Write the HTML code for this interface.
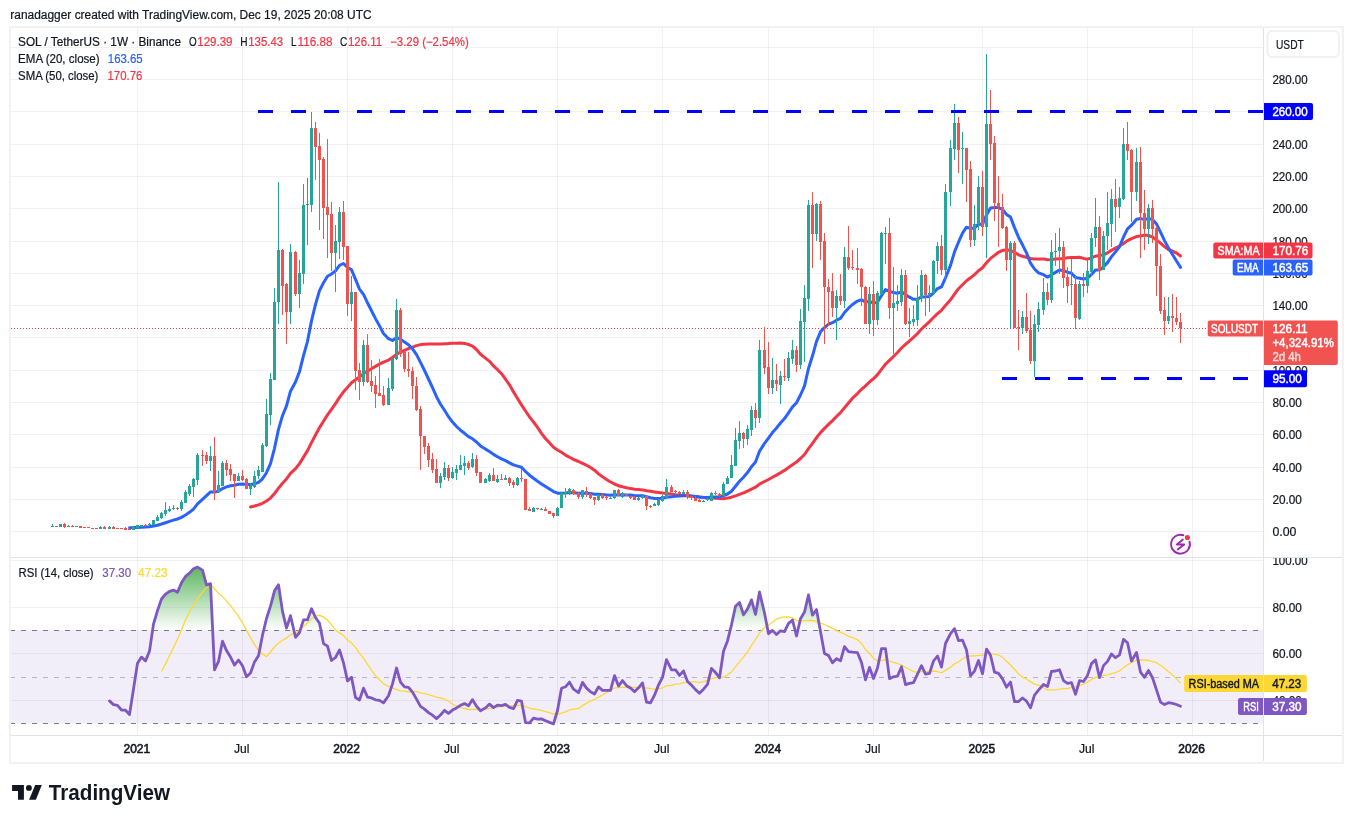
<!DOCTYPE html><html><head><meta charset="utf-8"><style>html,body{margin:0;padding:0;background:#fff;overflow:hidden}svg{display:block;will-change:transform}</style></head><body><svg width="1353" height="823" viewBox="0 0 1353 823" font-family='"Liberation Sans", sans-serif'><rect x="0" y="0" width="1353" height="823" fill="#ffffff"/>
<rect x="11" y="630" width="1252" height="93.5" fill="#7e57c2" fill-opacity="0.1"/>
<line x1="137.5" y1="28" x2="137.5" y2="735" stroke="#2a2e39" stroke-opacity="0.065" stroke-width="1"/>
<line x1="242.5" y1="28" x2="242.5" y2="735" stroke="#2a2e39" stroke-opacity="0.065" stroke-width="1"/>
<line x1="347.5" y1="28" x2="347.5" y2="735" stroke="#2a2e39" stroke-opacity="0.065" stroke-width="1"/>
<line x1="452.5" y1="28" x2="452.5" y2="735" stroke="#2a2e39" stroke-opacity="0.065" stroke-width="1"/>
<line x1="557.5" y1="28" x2="557.5" y2="735" stroke="#2a2e39" stroke-opacity="0.065" stroke-width="1"/>
<line x1="662.5" y1="28" x2="662.5" y2="735" stroke="#2a2e39" stroke-opacity="0.065" stroke-width="1"/>
<line x1="768.5" y1="28" x2="768.5" y2="735" stroke="#2a2e39" stroke-opacity="0.065" stroke-width="1"/>
<line x1="873.5" y1="28" x2="873.5" y2="735" stroke="#2a2e39" stroke-opacity="0.065" stroke-width="1"/>
<line x1="982.5" y1="28" x2="982.5" y2="735" stroke="#2a2e39" stroke-opacity="0.065" stroke-width="1"/>
<line x1="1087.5" y1="28" x2="1087.5" y2="735" stroke="#2a2e39" stroke-opacity="0.065" stroke-width="1"/>
<line x1="1192.5" y1="28" x2="1192.5" y2="735" stroke="#2a2e39" stroke-opacity="0.065" stroke-width="1"/>
<line x1="11" y1="47.5" x2="1263" y2="47.5" stroke="#2a2e39" stroke-opacity="0.065" stroke-width="1"/>
<line x1="11" y1="79.5" x2="1263" y2="79.5" stroke="#2a2e39" stroke-opacity="0.065" stroke-width="1"/>
<line x1="11" y1="111.5" x2="1263" y2="111.5" stroke="#2a2e39" stroke-opacity="0.065" stroke-width="1"/>
<line x1="11" y1="144.5" x2="1263" y2="144.5" stroke="#2a2e39" stroke-opacity="0.065" stroke-width="1"/>
<line x1="11" y1="176.5" x2="1263" y2="176.5" stroke="#2a2e39" stroke-opacity="0.065" stroke-width="1"/>
<line x1="11" y1="208.5" x2="1263" y2="208.5" stroke="#2a2e39" stroke-opacity="0.065" stroke-width="1"/>
<line x1="11" y1="241.5" x2="1263" y2="241.5" stroke="#2a2e39" stroke-opacity="0.065" stroke-width="1"/>
<line x1="11" y1="273.5" x2="1263" y2="273.5" stroke="#2a2e39" stroke-opacity="0.065" stroke-width="1"/>
<line x1="11" y1="305.5" x2="1263" y2="305.5" stroke="#2a2e39" stroke-opacity="0.065" stroke-width="1"/>
<line x1="11" y1="337.5" x2="1263" y2="337.5" stroke="#2a2e39" stroke-opacity="0.065" stroke-width="1"/>
<line x1="11" y1="370.5" x2="1263" y2="370.5" stroke="#2a2e39" stroke-opacity="0.065" stroke-width="1"/>
<line x1="11" y1="402.5" x2="1263" y2="402.5" stroke="#2a2e39" stroke-opacity="0.065" stroke-width="1"/>
<line x1="11" y1="434.5" x2="1263" y2="434.5" stroke="#2a2e39" stroke-opacity="0.065" stroke-width="1"/>
<line x1="11" y1="467.5" x2="1263" y2="467.5" stroke="#2a2e39" stroke-opacity="0.065" stroke-width="1"/>
<line x1="11" y1="499.5" x2="1263" y2="499.5" stroke="#2a2e39" stroke-opacity="0.065" stroke-width="1"/>
<line x1="11" y1="531.5" x2="1263" y2="531.5" stroke="#2a2e39" stroke-opacity="0.065" stroke-width="1"/>
<line x1="11" y1="560.5" x2="1263" y2="560.5" stroke="#2a2e39" stroke-opacity="0.065" stroke-width="1"/>
<line x1="11" y1="607.5" x2="1263" y2="607.5" stroke="#2a2e39" stroke-opacity="0.065" stroke-width="1"/>
<line x1="11" y1="653.5" x2="1263" y2="653.5" stroke="#2a2e39" stroke-opacity="0.065" stroke-width="1"/>
<line x1="11" y1="700.5" x2="1263" y2="700.5" stroke="#2a2e39" stroke-opacity="0.065" stroke-width="1"/>
<defs><linearGradient id="gOB" gradientUnits="userSpaceOnUse" x1="0" y1="560.5" x2="0" y2="630.4"><stop offset="0" stop-color="#4caf50" stop-opacity="1"/><stop offset="1" stop-color="#4caf50" stop-opacity="0"/></linearGradient>
<linearGradient id="gOS" gradientUnits="userSpaceOnUse" x1="0" y1="723.5" x2="0" y2="793.3"><stop offset="0" stop-color="#f23645" stop-opacity="0"/><stop offset="1" stop-color="#f23645" stop-opacity="1"/></linearGradient>
<clipPath id="cOB"><rect x="0" y="550" width="1263" height="80.4"/></clipPath><clipPath id="cOS"><rect x="0" y="723.5" width="1263" height="30"/></clipPath></defs>
<path d="M109.5,630.4 L109.5,700.9 L113.5,704.6 L117.5,705.3 L121.5,710.0 L125.5,710.2 L129.5,714.6 L133.5,689.0 L137.5,663.2 L141.5,657.1 L145.5,661.1 L149.5,651.1 L153.5,624.1 L157.5,610.6 L161.5,599.0 L165.5,594.1 L169.5,591.3 L173.5,590.1 L177.5,592.2 L181.5,582.7 L185.5,576.4 L189.5,573.1 L193.5,568.7 L197.5,567.1 L202.5,570.1 L206.5,585.0 L210.5,583.6 L214.5,669.9 L218.5,661.4 L222.5,641.2 L226.5,650.6 L230.5,657.1 L234.5,665.1 L238.5,660.0 L242.5,665.8 L246.5,676.7 L250.5,673.0 L254.5,661.9 L258.5,655.7 L262.5,635.2 L266.5,618.5 L270.5,606.1 L274.5,590.8 L278.5,584.8 L282.5,611.4 L286.5,628.1 L290.5,615.7 L295.5,637.3 L299.5,632.5 L303.5,619.8 L307.5,619.7 L311.5,608.7 L315.5,617.5 L319.5,623.3 L323.5,643.6 L327.5,646.2 L331.5,660.5 L335.5,657.5 L339.5,650.0 L343.5,662.8 L347.5,680.9 L351.5,677.2 L355.5,697.5 L359.5,700.0 L363.5,688.1 L367.5,697.1 L371.5,697.9 L375.5,699.8 L379.5,700.3 L383.5,702.9 L388.5,695.8 L392.5,683.9 L396.5,668.0 L400.5,682.1 L404.5,686.8 L408.5,687.3 L412.5,692.1 L416.5,699.1 L420.5,706.4 L424.5,709.1 L428.5,712.6 L432.5,715.2 L436.5,718.6 L440.5,715.0 L444.5,710.3 L448.5,713.4 L452.5,710.1 L456.5,707.9 L460.5,705.3 L464.5,703.6 L468.5,705.8 L472.5,699.6 L476.5,706.3 L480.5,710.8 L485.5,707.9 L489.5,704.1 L493.5,707.6 L497.5,705.1 L501.5,705.6 L505.5,704.3 L509.5,707.3 L513.5,708.6 L517.5,700.4 L521.5,701.2 L525.5,722.6 L529.5,722.9 L533.5,718.1 L537.5,719.2 L541.5,718.9 L545.5,720.7 L549.5,722.4 L553.5,723.9 L557.5,710.5 L561.5,688.2 L565.5,686.8 L569.5,682.1 L573.5,689.2 L578.5,692.7 L582.5,682.4 L586.5,688.1 L590.5,691.8 L594.5,694.0 L598.5,686.9 L602.5,690.4 L606.5,690.4 L610.5,690.4 L614.5,675.6 L618.5,686.1 L622.5,680.6 L626.5,685.7 L630.5,688.0 L634.5,691.8 L638.5,687.8 L642.5,682.9 L646.5,702.1 L650.5,702.9 L654.5,695.2 L658.5,685.0 L662.5,677.4 L666.5,659.6 L671.5,669.8 L675.5,669.8 L679.5,675.4 L683.5,670.9 L687.5,681.5 L691.5,685.1 L695.5,689.6 L699.5,693.2 L703.5,689.2 L707.5,684.4 L711.5,668.4 L715.5,672.4 L719.5,677.8 L723.5,651.2 L727.5,640.9 L731.5,624.8 L735.5,606.3 L739.5,602.5 L743.5,614.8 L747.5,609.1 L751.5,599.9 L755.5,614.4 L759.5,592.0 L764.5,613.0 L768.5,633.8 L772.5,630.4 L776.5,634.6 L780.5,630.8 L784.5,631.7 L788.5,623.3 L792.5,620.1 L796.5,636.0 L800.5,618.7 L804.5,612.0 L808.5,594.9 L812.5,615.2 L816.5,609.6 L820.5,631.8 L824.5,653.5 L828.5,655.5 L832.5,662.8 L836.5,658.7 L840.5,660.8 L844.5,646.7 L848.5,651.7 L852.5,652.2 L857.5,652.7 L861.5,662.5 L865.5,679.9 L869.5,667.4 L873.5,678.5 L877.5,667.9 L881.5,648.6 L885.5,648.6 L889.5,678.6 L893.5,676.8 L897.5,676.1 L901.5,666.8 L905.5,684.6 L909.5,683.3 L913.5,682.6 L917.5,674.1 L921.5,665.7 L925.5,674.2 L929.5,673.4 L933.5,661.0 L937.5,656.0 L941.5,667.1 L945.5,643.5 L950.5,633.6 L954.5,628.7 L958.5,640.6 L962.5,640.2 L966.5,650.0 L970.5,675.9 L974.5,671.1 L978.5,660.5 L982.5,673.8 L986.5,649.1 L990.5,655.2 L994.5,672.1 L998.5,673.3 L1002.5,678.9 L1006.5,687.2 L1010.5,682.0 L1014.5,701.7 L1018.5,701.5 L1022.5,698.0 L1026.5,701.1 L1030.5,707.9 L1034.5,695.1 L1038.5,690.1 L1043.5,684.5 L1047.5,686.6 L1051.5,671.4 L1055.5,671.0 L1059.5,669.8 L1063.5,680.6 L1067.5,683.4 L1071.5,682.6 L1075.5,694.4 L1079.5,680.6 L1083.5,681.5 L1087.5,675.4 L1091.5,663.6 L1095.5,659.9 L1099.5,677.6 L1103.5,665.6 L1107.5,661.4 L1111.5,654.0 L1115.5,657.7 L1119.5,654.8 L1123.5,639.4 L1127.5,642.8 L1131.5,661.1 L1136.5,652.4 L1140.5,672.1 L1144.5,677.3 L1148.5,670.5 L1152.5,677.7 L1156.5,689.9 L1160.5,702.1 L1164.5,704.6 L1168.5,702.7 L1172.5,703.3 L1176.5,704.5 L1180.5,706.2 L1180.5,630.4Z" fill="url(#gOB)" clip-path="url(#cOB)"/>
<path d="M109.5,723.5 L109.5,700.9 L113.5,704.6 L117.5,705.3 L121.5,710.0 L125.5,710.2 L129.5,714.6 L133.5,689.0 L137.5,663.2 L141.5,657.1 L145.5,661.1 L149.5,651.1 L153.5,624.1 L157.5,610.6 L161.5,599.0 L165.5,594.1 L169.5,591.3 L173.5,590.1 L177.5,592.2 L181.5,582.7 L185.5,576.4 L189.5,573.1 L193.5,568.7 L197.5,567.1 L202.5,570.1 L206.5,585.0 L210.5,583.6 L214.5,669.9 L218.5,661.4 L222.5,641.2 L226.5,650.6 L230.5,657.1 L234.5,665.1 L238.5,660.0 L242.5,665.8 L246.5,676.7 L250.5,673.0 L254.5,661.9 L258.5,655.7 L262.5,635.2 L266.5,618.5 L270.5,606.1 L274.5,590.8 L278.5,584.8 L282.5,611.4 L286.5,628.1 L290.5,615.7 L295.5,637.3 L299.5,632.5 L303.5,619.8 L307.5,619.7 L311.5,608.7 L315.5,617.5 L319.5,623.3 L323.5,643.6 L327.5,646.2 L331.5,660.5 L335.5,657.5 L339.5,650.0 L343.5,662.8 L347.5,680.9 L351.5,677.2 L355.5,697.5 L359.5,700.0 L363.5,688.1 L367.5,697.1 L371.5,697.9 L375.5,699.8 L379.5,700.3 L383.5,702.9 L388.5,695.8 L392.5,683.9 L396.5,668.0 L400.5,682.1 L404.5,686.8 L408.5,687.3 L412.5,692.1 L416.5,699.1 L420.5,706.4 L424.5,709.1 L428.5,712.6 L432.5,715.2 L436.5,718.6 L440.5,715.0 L444.5,710.3 L448.5,713.4 L452.5,710.1 L456.5,707.9 L460.5,705.3 L464.5,703.6 L468.5,705.8 L472.5,699.6 L476.5,706.3 L480.5,710.8 L485.5,707.9 L489.5,704.1 L493.5,707.6 L497.5,705.1 L501.5,705.6 L505.5,704.3 L509.5,707.3 L513.5,708.6 L517.5,700.4 L521.5,701.2 L525.5,722.6 L529.5,722.9 L533.5,718.1 L537.5,719.2 L541.5,718.9 L545.5,720.7 L549.5,722.4 L553.5,723.9 L557.5,710.5 L561.5,688.2 L565.5,686.8 L569.5,682.1 L573.5,689.2 L578.5,692.7 L582.5,682.4 L586.5,688.1 L590.5,691.8 L594.5,694.0 L598.5,686.9 L602.5,690.4 L606.5,690.4 L610.5,690.4 L614.5,675.6 L618.5,686.1 L622.5,680.6 L626.5,685.7 L630.5,688.0 L634.5,691.8 L638.5,687.8 L642.5,682.9 L646.5,702.1 L650.5,702.9 L654.5,695.2 L658.5,685.0 L662.5,677.4 L666.5,659.6 L671.5,669.8 L675.5,669.8 L679.5,675.4 L683.5,670.9 L687.5,681.5 L691.5,685.1 L695.5,689.6 L699.5,693.2 L703.5,689.2 L707.5,684.4 L711.5,668.4 L715.5,672.4 L719.5,677.8 L723.5,651.2 L727.5,640.9 L731.5,624.8 L735.5,606.3 L739.5,602.5 L743.5,614.8 L747.5,609.1 L751.5,599.9 L755.5,614.4 L759.5,592.0 L764.5,613.0 L768.5,633.8 L772.5,630.4 L776.5,634.6 L780.5,630.8 L784.5,631.7 L788.5,623.3 L792.5,620.1 L796.5,636.0 L800.5,618.7 L804.5,612.0 L808.5,594.9 L812.5,615.2 L816.5,609.6 L820.5,631.8 L824.5,653.5 L828.5,655.5 L832.5,662.8 L836.5,658.7 L840.5,660.8 L844.5,646.7 L848.5,651.7 L852.5,652.2 L857.5,652.7 L861.5,662.5 L865.5,679.9 L869.5,667.4 L873.5,678.5 L877.5,667.9 L881.5,648.6 L885.5,648.6 L889.5,678.6 L893.5,676.8 L897.5,676.1 L901.5,666.8 L905.5,684.6 L909.5,683.3 L913.5,682.6 L917.5,674.1 L921.5,665.7 L925.5,674.2 L929.5,673.4 L933.5,661.0 L937.5,656.0 L941.5,667.1 L945.5,643.5 L950.5,633.6 L954.5,628.7 L958.5,640.6 L962.5,640.2 L966.5,650.0 L970.5,675.9 L974.5,671.1 L978.5,660.5 L982.5,673.8 L986.5,649.1 L990.5,655.2 L994.5,672.1 L998.5,673.3 L1002.5,678.9 L1006.5,687.2 L1010.5,682.0 L1014.5,701.7 L1018.5,701.5 L1022.5,698.0 L1026.5,701.1 L1030.5,707.9 L1034.5,695.1 L1038.5,690.1 L1043.5,684.5 L1047.5,686.6 L1051.5,671.4 L1055.5,671.0 L1059.5,669.8 L1063.5,680.6 L1067.5,683.4 L1071.5,682.6 L1075.5,694.4 L1079.5,680.6 L1083.5,681.5 L1087.5,675.4 L1091.5,663.6 L1095.5,659.9 L1099.5,677.6 L1103.5,665.6 L1107.5,661.4 L1111.5,654.0 L1115.5,657.7 L1119.5,654.8 L1123.5,639.4 L1127.5,642.8 L1131.5,661.1 L1136.5,652.4 L1140.5,672.1 L1144.5,677.3 L1148.5,670.5 L1152.5,677.7 L1156.5,689.9 L1160.5,702.1 L1164.5,704.6 L1168.5,702.7 L1172.5,703.3 L1176.5,704.5 L1180.5,706.2 L1180.5,723.5Z" fill="url(#gOS)" clip-path="url(#cOS)"/>
<line x1="11" y1="630.5" x2="1263" y2="630.5" stroke="#787b86" stroke-opacity="1" stroke-width="1" stroke-dasharray="5,6" stroke-dashoffset="1"/>
<line x1="11" y1="677.5" x2="1263" y2="677.5" stroke="#787b86" stroke-opacity="0.5" stroke-width="1" stroke-dasharray="5,6" stroke-dashoffset="1"/>
<line x1="11" y1="723.5" x2="1263" y2="723.5" stroke="#787b86" stroke-opacity="1" stroke-width="1" stroke-dasharray="5,6" stroke-dashoffset="1"/>
<line x1="11" y1="328.5" x2="1263" y2="328.5" stroke="#f23645" stroke-width="1" stroke-dasharray="1,2"/>
<path d="M250.5,507.0 L254.5,506.0 L258.5,504.9 L262.5,503.3 L266.5,501.0 L270.5,498.1 L274.5,493.6 L278.5,488.1 L282.5,483.2 L286.5,478.9 L290.5,473.4 L295.5,468.7 L299.5,463.6 L303.5,457.1 L307.5,450.6 L311.5,442.6 L315.5,435.0 L319.5,427.6 L323.5,421.2 L327.5,414.9 L331.5,409.3 L335.5,403.6 L339.5,397.4 L343.5,391.8 L347.5,387.4 L351.5,382.7 L355.5,379.8 L359.5,377.1 L363.5,373.7 L367.5,371.1 L371.5,368.7 L375.5,366.4 L379.5,364.1 L383.5,362.2 L388.5,360.1 L392.5,357.5 L396.5,354.2 L400.5,352.1 L404.5,350.4 L408.5,348.6 L412.5,347.2 L416.5,345.6 L420.5,344.6 L424.5,344.3 L428.5,344.1 L432.5,344.0 L436.5,344.0 L440.5,344.0 L444.5,343.8 L448.5,343.6 L452.5,343.3 L456.5,343.2 L460.5,343.1 L464.5,343.4 L468.5,344.5 L472.5,346.1 L476.5,349.5 L480.5,354.2 L485.5,358.1 L489.5,361.3 L493.5,365.9 L497.5,369.6 L501.5,373.7 L505.5,379.2 L509.5,384.8 L513.5,391.9 L517.5,398.5 L521.5,404.9 L525.5,411.0 L529.5,416.9 L533.5,422.0 L537.5,427.3 L541.5,433.3 L545.5,438.6 L549.5,442.8 L553.5,447.2 L557.5,450.0 L561.5,452.2 L565.5,455.1 L569.5,457.3 L573.5,459.4 L578.5,461.5 L582.5,463.4 L586.5,465.2 L590.5,467.4 L594.5,470.2 L598.5,473.9 L602.5,476.8 L606.5,479.4 L610.5,481.9 L614.5,484.0 L618.5,485.7 L622.5,486.8 L626.5,487.8 L630.5,488.6 L634.5,489.2 L638.5,489.5 L642.5,489.9 L646.5,490.7 L650.5,491.2 L654.5,491.9 L658.5,492.5 L662.5,493.1 L666.5,493.6 L671.5,494.1 L675.5,494.7 L679.5,495.1 L683.5,495.3 L687.5,495.7 L691.5,496.2 L695.5,496.5 L699.5,497.0 L703.5,497.4 L707.5,497.9 L711.5,498.1 L715.5,498.3 L719.5,498.6 L723.5,498.7 L727.5,498.1 L731.5,497.2 L735.5,495.8 L739.5,494.3 L743.5,492.9 L747.5,491.2 L751.5,489.2 L755.5,487.2 L759.5,484.1 L764.5,481.5 L768.5,479.5 L772.5,477.3 L776.5,475.1 L780.5,472.7 L784.5,470.4 L788.5,467.6 L792.5,464.7 L796.5,462.0 L800.5,458.5 L804.5,454.5 L808.5,448.6 L812.5,443.4 L816.5,437.7 L820.5,432.6 L824.5,428.4 L828.5,424.4 L832.5,420.6 L836.5,416.5 L840.5,412.6 L844.5,407.8 L848.5,403.0 L852.5,398.2 L857.5,393.6 L861.5,389.3 L865.5,385.9 L869.5,382.0 L873.5,378.6 L877.5,374.6 L881.5,369.4 L885.5,364.2 L889.5,360.4 L893.5,356.5 L897.5,352.5 L901.5,348.0 L905.5,344.4 L909.5,340.9 L913.5,337.4 L917.5,333.5 L921.5,329.0 L925.5,325.3 L929.5,321.6 L933.5,317.5 L937.5,313.6 L941.5,310.3 L945.5,305.4 L950.5,299.8 L954.5,294.1 L958.5,288.7 L962.5,284.7 L966.5,280.7 L970.5,277.8 L974.5,274.6 L978.5,270.7 L982.5,267.7 L986.5,262.7 L990.5,258.4 L994.5,255.4 L998.5,252.3 L1002.5,250.4 L1006.5,249.7 L1010.5,250.4 L1014.5,252.3 L1018.5,254.8 L1022.5,256.3 L1026.5,257.2 L1030.5,258.5 L1034.5,258.9 L1038.5,259.1 L1043.5,258.9 L1047.5,259.8 L1051.5,259.5 L1055.5,259.1 L1059.5,258.7 L1063.5,258.5 L1067.5,257.7 L1071.5,257.5 L1075.5,257.5 L1079.5,257.3 L1083.5,258.4 L1087.5,259.2 L1091.5,257.8 L1095.5,256.2 L1099.5,255.6 L1103.5,254.8 L1107.5,252.8 L1111.5,250.4 L1115.5,248.1 L1119.5,246.1 L1123.5,243.5 L1127.5,240.6 L1131.5,238.6 L1136.5,236.6 L1140.5,236.0 L1144.5,235.1 L1148.5,235.5 L1152.5,237.1 L1156.5,239.9 L1160.5,243.2 L1164.5,246.6 L1168.5,249.5 L1172.5,251.1 L1176.5,253.1 L1180.5,255.9" stroke="#f23645" stroke-width="3" fill="none" stroke-linejoin="round" stroke-linecap="round"/>
<path d="M129.5,527.7 L133.5,527.6 L137.5,527.4 L141.5,527.2 L145.5,527.1 L149.5,526.8 L153.5,526.1 L157.5,525.2 L161.5,524.0 L165.5,522.7 L169.5,521.4 L173.5,520.1 L177.5,519.0 L181.5,517.4 L185.5,515.0 L189.5,512.3 L193.5,509.1 L197.5,503.9 L202.5,499.4 L206.5,495.7 L210.5,491.9 L214.5,492.0 L218.5,491.3 L222.5,488.6 L226.5,486.9 L230.5,485.7 L234.5,485.2 L238.5,484.3 L242.5,484.0 L246.5,484.4 L250.5,484.5 L254.5,483.7 L258.5,482.4 L262.5,478.8 L266.5,472.7 L270.5,463.7 L274.5,448.3 L278.5,429.4 L282.5,415.7 L286.5,405.9 L290.5,391.2 L295.5,382.0 L299.5,371.6 L303.5,355.7 L307.5,341.3 L311.5,320.9 L315.5,304.3 L319.5,290.6 L323.5,282.7 L327.5,276.2 L331.5,274.0 L335.5,270.9 L339.5,265.3 L343.5,263.5 L347.5,267.4 L351.5,269.8 L355.5,279.4 L359.5,289.1 L363.5,294.4 L367.5,302.8 L371.5,310.7 L375.5,318.6 L379.5,325.9 L383.5,333.5 L388.5,338.7 L392.5,340.5 L396.5,337.6 L400.5,339.2 L404.5,342.1 L408.5,344.8 L412.5,348.8 L416.5,354.6 L420.5,362.4 L424.5,370.5 L428.5,379.0 L432.5,387.6 L436.5,396.7 L440.5,404.2 L444.5,410.3 L448.5,416.7 L452.5,422.1 L456.5,426.5 L460.5,430.2 L464.5,433.3 L468.5,436.6 L472.5,438.8 L476.5,442.0 L480.5,445.9 L485.5,449.1 L489.5,451.5 L493.5,454.4 L497.5,456.7 L501.5,458.9 L505.5,460.7 L509.5,462.8 L513.5,464.9 L517.5,466.1 L521.5,467.3 L525.5,471.5 L529.5,475.2 L533.5,478.3 L537.5,481.2 L541.5,483.9 L545.5,486.5 L549.5,489.1 L553.5,491.6 L557.5,493.2 L561.5,493.2 L565.5,493.1 L569.5,492.6 L573.5,492.8 L578.5,493.2 L582.5,493.0 L586.5,493.2 L590.5,493.6 L594.5,494.2 L598.5,494.3 L602.5,494.6 L606.5,494.9 L610.5,495.2 L614.5,494.7 L618.5,494.9 L622.5,494.7 L626.5,494.9 L630.5,495.1 L634.5,495.6 L638.5,495.8 L642.5,495.8 L646.5,496.8 L650.5,497.8 L654.5,498.4 L658.5,498.5 L662.5,498.3 L666.5,497.2 L671.5,496.7 L675.5,496.2 L679.5,496.0 L683.5,495.7 L687.5,495.8 L691.5,496.0 L695.5,496.5 L699.5,497.0 L703.5,497.4 L707.5,497.6 L711.5,497.1 L715.5,496.9 L719.5,496.8 L723.5,495.6 L727.5,494.0 L731.5,491.2 L735.5,486.3 L739.5,481.3 L743.5,477.2 L747.5,472.6 L751.5,466.7 L755.5,462.0 L759.5,451.3 L764.5,443.4 L768.5,438.1 L772.5,432.6 L776.5,428.0 L780.5,423.0 L784.5,418.6 L788.5,412.8 L792.5,406.9 L796.5,402.8 L800.5,395.0 L804.5,385.8 L808.5,368.5 L812.5,355.8 L816.5,341.3 L820.5,331.8 L824.5,327.6 L828.5,324.2 L832.5,322.7 L836.5,320.2 L840.5,318.3 L844.5,312.5 L848.5,308.2 L852.5,304.5 L857.5,301.1 L861.5,299.8 L865.5,302.1 L869.5,301.4 L873.5,303.1 L877.5,302.1 L881.5,295.5 L885.5,289.6 L889.5,291.4 L893.5,292.5 L897.5,293.3 L901.5,291.6 L905.5,294.7 L909.5,297.2 L913.5,299.3 L917.5,299.2 L921.5,296.9 L925.5,296.7 L929.5,296.4 L933.5,293.0 L937.5,288.6 L941.5,286.8 L945.5,277.8 L950.5,265.4 L954.5,251.9 L958.5,242.2 L962.5,233.2 L966.5,227.2 L970.5,228.4 L974.5,228.0 L978.5,224.1 L982.5,224.5 L986.5,214.9 L990.5,208.1 L994.5,207.6 L998.5,207.6 L1002.5,209.5 L1006.5,214.4 L1010.5,217.1 L1014.5,227.6 L1018.5,237.2 L1022.5,244.8 L1026.5,252.9 L1030.5,263.2 L1034.5,269.0 L1038.5,272.9 L1043.5,274.7 L1047.5,277.1 L1051.5,274.7 L1055.5,272.4 L1059.5,270.0 L1063.5,270.7 L1067.5,272.2 L1071.5,273.3 L1075.5,277.6 L1079.5,278.2 L1083.5,279.0 L1087.5,278.2 L1091.5,274.4 L1095.5,270.0 L1099.5,270.0 L1103.5,266.8 L1107.5,262.6 L1111.5,256.6 L1115.5,251.9 L1119.5,246.8 L1123.5,237.0 L1127.5,228.8 L1131.5,225.2 L1136.5,219.2 L1140.5,218.6 L1144.5,219.6 L1148.5,218.5 L1152.5,219.5 L1156.5,223.9 L1160.5,232.2 L1164.5,240.6 L1168.5,247.9 L1172.5,254.6 L1176.5,261.0 L1180.5,267.4" stroke="#2962ff" stroke-width="3" fill="none" stroke-linejoin="round" stroke-linecap="round"/>
<path d="M52.5,524V527M60.5,524V527M68.5,525V527M76.5,526V527M100.5,526V529M109.5,526V529M133.5,527V530M137.5,525V529M141.5,525V527M149.5,523V526M153.5,520V525M157.5,515V521M161.5,512V519M165.5,502V516M169.5,506V512M173.5,505V510M181.5,500V511M185.5,490V503M189.5,484V496M193.5,478V497M197.5,453V485M210.5,446V471M218.5,471V493M222.5,461V486M238.5,473V481M250.5,483V495M254.5,471V488M258.5,466V479M262.5,443V472M266.5,399V447M270.5,373V425M274.5,288V380M278.5,182V324M290.5,244V324M299.5,260V308M303.5,184V284M307.5,178V245M311.5,112V212M335.5,225V292M339.5,207V259M351.5,276V321M363.5,340V386M388.5,378V405M392.5,358V391M396.5,299V360M440.5,473V488M444.5,462V480M452.5,467V479M456.5,465V480M460.5,455V470M464.5,456V475M472.5,453V468M485.5,478V483M489.5,473V482M497.5,475V483M505.5,475V480M517.5,477V486M533.5,507V512M541.5,508V510M557.5,507V516M561.5,492V508M565.5,488V498M569.5,488V495M582.5,490V499M598.5,494V501M610.5,497V499M614.5,490V499M622.5,492V498M638.5,497V501M642.5,495V499M654.5,503V506M658.5,499V506M662.5,495V502M666.5,479V498M683.5,490V494M703.5,500V502M707.5,498V501M711.5,492V501M723.5,482V496M727.5,476V484M731.5,455V478M735.5,428V466M739.5,421V449M747.5,425V445M751.5,406V436M759.5,340V423M772.5,358V394M780.5,371V404M788.5,352V381M792.5,340V364M800.5,309V369M804.5,285V362M808.5,200V311M816.5,203V241M836.5,290V340M844.5,247V308M869.5,287V334M877.5,291V325M881.5,232V294M885.5,227V264M893.5,267V354M897.5,285V311M901.5,269V306M909.5,308V337M913.5,305V326M917.5,285V326M921.5,270V302M929.5,285V312M933.5,260V294M937.5,242V274M945.5,184V280M950.5,140V206M954.5,104V160M962.5,132V184M974.5,205V246M978.5,176V230M986.5,54V258M1010.5,241V328M1022.5,311V334M1034.5,315V377M1038.5,302V332M1043.5,278V315M1051.5,240V303M1055.5,233V266M1059.5,228V274M1071.5,259V305M1079.5,281V320M1087.5,260V293M1091.5,233V276M1095.5,198V247M1103.5,231V270M1107.5,192V250M1111.5,189V247M1119.5,187V218M1123.5,128V200M1136.5,148V201M1148.5,204V244M1168.5,297V324" stroke="#26a69a" stroke-width="1" fill="none"/>
<path d="M56.5,526V527M64.5,523V528M72.5,525V527M80.5,526V528M84.5,527V528M88.5,527V528M92.5,528V529M96.5,528V529M104.5,526V529M113.5,526V529M117.5,528V529M121.5,528V529M125.5,527V530M129.5,529V530M145.5,524V527M177.5,507V510M202.5,450V466M206.5,452V464M214.5,437V500M226.5,460V476M230.5,464V481M234.5,474V498M242.5,470V481M246.5,478V489M282.5,249V315M286.5,283V344M295.5,251V296M315.5,122V180M319.5,133V230M323.5,157V239M327.5,139V258M331.5,202V271M343.5,201V260M347.5,246V316M355.5,292V390M359.5,363V400M367.5,334V383M371.5,360V392M375.5,376V408M379.5,359V396M383.5,386V406M400.5,308V357M404.5,352V372M408.5,352V377M412.5,367V399M416.5,377V411M420.5,406V470M424.5,436V454M428.5,443V467M432.5,453V473M436.5,459V483M448.5,465V481M468.5,461V470M476.5,455V476M480.5,472V483M493.5,468V481M501.5,474V480M509.5,477V486M513.5,480V488M521.5,469V482M525.5,479V510M529.5,507V511M537.5,508V510M545.5,507V511M549.5,511V514M553.5,513V518M573.5,489V495M578.5,492V499M586.5,487V497M590.5,493V499M594.5,497V505M602.5,493V499M606.5,496V500M618.5,489V496M626.5,494V496M630.5,496V499M634.5,496V500M646.5,496V510M650.5,505V508M671.5,485V492M675.5,490V493M679.5,491V494M687.5,490V499M691.5,496V500M695.5,496V501M699.5,499V502M715.5,491V495M719.5,493V497M743.5,432V448M755.5,403V428M764.5,327V374M768.5,342V394M776.5,364V391M784.5,359V381M796.5,346V372M812.5,192V268M820.5,201V260M824.5,233V344M828.5,279V326M832.5,273V317M840.5,274V305M848.5,226V270M852.5,250V270M857.5,248V284M861.5,268V306M865.5,286V324M873.5,281V336M889.5,218V319M905.5,270V325M925.5,274V316M941.5,235V275M958.5,117V173M966.5,148V202M970.5,161V247M982.5,171V236M990.5,90V160M994.5,136V221M998.5,176V247M1002.5,194V229M1006.5,226V271M1014.5,241V328M1018.5,310V350M1026.5,293V333M1030.5,311V364M1047.5,283V305M1063.5,241V288M1067.5,267V303M1075.5,275V329M1083.5,273V297M1099.5,216V280M1115.5,179V232M1127.5,122V160M1131.5,149V222M1140.5,147V258M1144.5,190V250M1152.5,200V243M1156.5,226V296M1160.5,254V314M1164.5,297V335M1172.5,294V332M1176.5,297V325M1180.5,313V343" stroke="#ef5350" stroke-width="1" fill="none"/>
<path d="M51,526h3v1h-3zM59,524h3v3h-3zM67,526h3v1h-3zM75,526h3v1h-3zM99,527h3v2h-3zM108,527h3v2h-3zM132,527h3v3h-3zM136,525h3v3h-3zM140,525h3v2h-3zM148,524h3v1h-3zM152,520h3v5h-3zM156,517h3v4h-3zM160,513h3v5h-3zM164,510h3v4h-3zM168,509h3v2h-3zM172,508h3v1h-3zM180,502h3v7h-3zM184,492h3v11h-3zM188,486h3v8h-3zM192,479h3v8h-3zM196,455h3v25h-3zM209,456h3v5h-3zM217,485h3v7h-3zM221,463h3v23h-3zM237,476h3v5h-3zM249,486h3v3h-3zM253,476h3v11h-3zM257,470h3v6h-3zM261,445h3v27h-3zM265,414h3v32h-3zM269,379h3v36h-3zM273,302h3v78h-3zM277,250h3v52h-3zM289,252h3v60h-3zM298,273h3v21h-3zM302,205h3v69h-3zM306,204h3v1h-3zM310,128h3v77h-3zM334,241h3v12h-3zM338,212h3v30h-3zM350,292h3v12h-3zM362,345h3v37h-3zM387,388h3v17h-3zM391,358h3v31h-3zM395,310h3v49h-3zM439,476h3v7h-3zM443,468h3v9h-3zM451,472h3v6h-3zM455,469h3v4h-3zM459,465h3v5h-3zM463,463h3v3h-3zM471,459h3v8h-3zM484,479h3v4h-3zM488,475h3v6h-3zM496,479h3v3h-3zM504,478h3v2h-3zM516,478h3v7h-3zM532,508h3v4h-3zM540,509h3v1h-3zM556,508h3v8h-3zM560,493h3v15h-3zM564,492h3v2h-3zM568,489h3v4h-3zM581,490h3v7h-3zM597,495h3v5h-3zM609,498h3v1h-3zM613,490h3v8h-3zM621,493h3v4h-3zM637,498h3v2h-3zM641,496h3v2h-3zM653,504h3v2h-3zM657,500h3v5h-3zM661,496h3v5h-3zM665,487h3v11h-3zM682,492h3v2h-3zM702,501h3v1h-3zM706,499h3v1h-3zM710,493h3v8h-3zM722,484h3v12h-3zM726,478h3v6h-3zM730,465h3v13h-3zM734,440h3v26h-3zM738,433h3v8h-3zM746,429h3v10h-3zM750,410h3v20h-3zM758,350h3v68h-3zM771,380h3v8h-3zM779,376h3v9h-3zM787,358h3v20h-3zM791,350h3v9h-3zM799,321h3v44h-3zM803,298h3v24h-3zM807,205h3v94h-3zM815,204h3v30h-3zM835,296h3v12h-3zM843,257h3v44h-3zM868,294h3v30h-3zM876,293h3v27h-3zM880,233h3v61h-3zM884,233h3v1h-3zM892,303h3v5h-3zM896,301h3v3h-3zM900,275h3v27h-3zM908,321h3v3h-3zM912,319h3v3h-3zM916,298h3v22h-3zM920,275h3v23h-3zM928,293h3v2h-3zM932,261h3v32h-3zM936,246h3v15h-3zM944,192h3v78h-3zM949,148h3v44h-3zM953,123h3v26h-3zM961,148h3v1h-3zM973,224h3v16h-3zM977,187h3v37h-3zM985,124h3v103h-3zM1009,243h3v17h-3zM1021,317h3v11h-3zM1033,324h3v37h-3zM1037,309h3v16h-3zM1042,292h3v18h-3zM1050,252h3v48h-3zM1054,251h3v1h-3zM1058,247h3v4h-3zM1070,284h3v1h-3zM1078,284h3v35h-3zM1086,271h3v15h-3zM1090,238h3v34h-3zM1094,227h3v11h-3zM1102,236h3v34h-3zM1106,223h3v13h-3zM1110,199h3v25h-3zM1118,198h3v9h-3zM1122,144h3v55h-3zM1135,162h3v30h-3zM1147,208h3v21h-3zM1167,316h3v5h-3z" fill="#26a69a"/>
<path d="M55,526h3v1h-3zM63,524h3v3h-3zM71,526h3v1h-3zM79,526h3v2h-3zM83,527h3v1h-3zM87,527h3v1h-3zM91,528h3v1h-3zM95,528h3v1h-3zM103,527h3v2h-3zM112,527h3v2h-3zM116,528h3v1h-3zM120,528h3v1h-3zM124,528h3v2h-3zM128,529h3v1h-3zM144,525h3v1h-3zM176,508h3v1h-3zM201,455h3v1h-3zM205,455h3v6h-3zM213,456h3v36h-3zM225,463h3v7h-3zM229,469h3v6h-3zM233,474h3v7h-3zM241,476h3v4h-3zM245,479h3v10h-3zM281,250h3v36h-3zM285,284h3v28h-3zM294,252h3v42h-3zM314,128h3v19h-3zM318,146h3v14h-3zM322,159h3v49h-3zM326,207h3v8h-3zM330,214h3v39h-3zM342,212h3v35h-3zM346,246h3v58h-3zM354,292h3v79h-3zM358,370h3v12h-3zM366,345h3v37h-3zM370,381h3v5h-3zM374,385h3v9h-3zM378,393h3v3h-3zM382,395h3v10h-3zM399,310h3v44h-3zM403,352h3v17h-3zM407,369h3v2h-3zM411,371h3v15h-3zM415,386h3v24h-3zM419,409h3v27h-3zM423,436h3v11h-3zM427,446h3v14h-3zM431,459h3v11h-3zM435,469h3v14h-3zM447,468h3v10h-3zM467,463h3v5h-3zM475,459h3v14h-3zM479,472h3v11h-3zM492,475h3v6h-3zM500,479h3v1h-3zM508,478h3v5h-3zM512,482h3v3h-3zM520,478h3v1h-3zM524,479h3v31h-3zM528,509h3v2h-3zM536,508h3v1h-3zM544,509h3v2h-3zM548,511h3v3h-3zM552,513h3v3h-3zM572,490h3v4h-3zM577,493h3v4h-3zM585,491h3v4h-3zM589,494h3v4h-3zM593,497h3v3h-3zM601,495h3v3h-3zM605,497h3v1h-3zM617,490h3v6h-3zM625,494h3v2h-3zM629,496h3v2h-3zM633,497h3v3h-3zM645,496h3v10h-3zM649,506h3v1h-3zM670,487h3v5h-3zM674,491h3v1h-3zM678,492h3v2h-3zM686,492h3v5h-3zM690,496h3v2h-3zM694,498h3v3h-3zM698,500h3v2h-3zM714,493h3v1h-3zM718,494h3v2h-3zM742,433h3v6h-3zM754,410h3v8h-3zM763,350h3v18h-3zM767,367h3v21h-3zM775,380h3v4h-3zM783,376h3v1h-3zM795,350h3v15h-3zM811,205h3v29h-3zM819,204h3v38h-3zM823,241h3v46h-3zM827,287h3v5h-3zM831,291h3v17h-3zM839,296h3v5h-3zM847,257h3v11h-3zM851,267h3v1h-3zM856,268h3v2h-3zM860,269h3v18h-3zM864,287h3v37h-3zM872,294h3v26h-3zM888,233h3v75h-3zM904,275h3v49h-3zM924,275h3v20h-3zM940,246h3v24h-3zM957,123h3v27h-3zM965,148h3v22h-3zM969,169h3v71h-3zM981,187h3v40h-3zM989,124h3v20h-3zM993,143h3v60h-3zM997,203h3v4h-3zM1001,207h3v21h-3zM1005,227h3v33h-3zM1013,243h3v85h-3zM1017,327h3v1h-3zM1025,317h3v14h-3zM1029,330h3v31h-3zM1046,292h3v8h-3zM1062,247h3v31h-3zM1066,277h3v9h-3zM1074,284h3v34h-3zM1082,284h3v2h-3zM1098,227h3v44h-3zM1114,199h3v8h-3zM1126,144h3v7h-3zM1130,150h3v42h-3zM1139,162h3v51h-3zM1143,213h3v16h-3zM1151,208h3v21h-3zM1155,228h3v38h-3zM1159,266h3v45h-3zM1163,310h3v11h-3zM1171,316h3v2h-3zM1175,318h3v4h-3zM1179,322h3v6h-3z" fill="#ef5350"/>
<path d="M161.5,671.5 L165.5,663.9 L169.5,655.8 L173.5,647.5 L177.5,639.1 L181.5,630.0 L185.5,620.1 L189.5,611.9 L193.5,605.1 L197.5,598.7 L202.5,592.2 L206.5,587.4 L210.5,584.6 L214.5,588.8 L218.5,593.2 L222.5,596.6 L226.5,600.9 L230.5,605.6 L234.5,610.8 L238.5,616.4 L242.5,622.8 L246.5,630.2 L250.5,637.6 L254.5,644.4 L258.5,650.5 L262.5,654.1 L266.5,656.6 L270.5,652.0 L274.5,647.0 L278.5,643.0 L282.5,640.2 L286.5,638.1 L290.5,634.6 L295.5,632.9 L299.5,630.6 L303.5,626.5 L307.5,622.7 L311.5,618.9 L315.5,616.2 L319.5,615.3 L323.5,617.1 L327.5,620.0 L331.5,624.9 L335.5,630.1 L339.5,632.9 L343.5,635.4 L347.5,640.0 L351.5,642.9 L355.5,647.5 L359.5,653.2 L363.5,658.1 L367.5,664.4 L371.5,670.2 L375.5,675.7 L379.5,679.7 L383.5,683.8 L388.5,686.3 L392.5,688.2 L396.5,689.4 L400.5,690.8 L404.5,691.2 L408.5,692.0 L412.5,691.6 L416.5,691.5 L420.5,692.8 L424.5,693.7 L428.5,694.7 L432.5,695.8 L436.5,697.1 L440.5,698.0 L444.5,699.0 L448.5,701.1 L452.5,704.1 L456.5,706.0 L460.5,707.3 L464.5,708.5 L468.5,709.5 L472.5,709.5 L476.5,709.5 L480.5,709.6 L485.5,709.3 L489.5,708.5 L493.5,707.7 L497.5,707.0 L501.5,706.7 L505.5,706.0 L509.5,705.8 L513.5,705.9 L517.5,705.5 L521.5,705.3 L525.5,706.5 L529.5,708.2 L533.5,709.0 L537.5,709.6 L541.5,710.4 L545.5,711.6 L549.5,712.7 L553.5,714.0 L557.5,714.4 L561.5,713.2 L565.5,711.8 L569.5,709.9 L573.5,709.1 L578.5,708.5 L582.5,705.6 L586.5,703.1 L590.5,701.2 L594.5,699.4 L598.5,697.1 L602.5,695.0 L606.5,692.7 L610.5,690.3 L614.5,687.8 L618.5,687.6 L622.5,687.2 L626.5,687.5 L630.5,687.4 L634.5,687.3 L638.5,687.7 L642.5,687.3 L646.5,688.0 L650.5,688.7 L654.5,689.3 L658.5,688.9 L662.5,688.0 L666.5,685.8 L671.5,685.3 L675.5,684.2 L679.5,683.8 L683.5,682.7 L687.5,682.3 L691.5,681.8 L695.5,681.9 L699.5,682.7 L703.5,681.7 L707.5,680.4 L711.5,678.5 L715.5,677.6 L719.5,677.6 L723.5,677.0 L727.5,675.0 L731.5,671.8 L735.5,666.8 L739.5,661.9 L743.5,657.2 L747.5,651.8 L751.5,645.3 L755.5,639.7 L759.5,632.8 L764.5,627.7 L768.5,625.2 L772.5,622.2 L776.5,619.1 L780.5,617.7 L784.5,617.0 L788.5,616.9 L792.5,617.9 L796.5,620.3 L800.5,620.6 L804.5,620.8 L808.5,620.4 L812.5,620.5 L816.5,621.7 L820.5,623.1 L824.5,624.5 L828.5,626.3 L832.5,628.3 L836.5,630.3 L840.5,632.4 L844.5,634.0 L848.5,636.3 L852.5,637.4 L857.5,639.9 L861.5,643.5 L865.5,649.5 L869.5,653.3 L873.5,658.2 L877.5,660.8 L881.5,660.4 L885.5,659.9 L889.5,661.1 L893.5,662.4 L897.5,663.5 L901.5,664.9 L905.5,667.2 L909.5,669.5 L913.5,671.6 L917.5,672.4 L921.5,671.4 L925.5,671.9 L929.5,671.5 L933.5,671.0 L937.5,671.6 L941.5,672.9 L945.5,670.4 L950.5,667.3 L954.5,663.9 L958.5,662.0 L962.5,658.8 L966.5,656.5 L970.5,656.0 L974.5,655.8 L978.5,655.4 L982.5,655.4 L986.5,653.6 L990.5,653.2 L994.5,654.4 L998.5,654.8 L1002.5,657.4 L1006.5,661.2 L1010.5,665.0 L1014.5,669.3 L1018.5,673.7 L1022.5,677.2 L1026.5,679.0 L1030.5,681.6 L1034.5,684.1 L1038.5,685.2 L1043.5,687.7 L1047.5,690.0 L1051.5,689.9 L1055.5,689.8 L1059.5,689.1 L1063.5,688.6 L1067.5,688.7 L1071.5,687.4 L1075.5,686.9 L1079.5,685.6 L1083.5,684.2 L1087.5,681.9 L1091.5,679.7 L1095.5,677.5 L1099.5,677.0 L1103.5,675.5 L1107.5,674.8 L1111.5,673.6 L1115.5,672.7 L1119.5,670.9 L1123.5,667.8 L1127.5,664.9 L1131.5,662.5 L1136.5,660.5 L1140.5,659.8 L1144.5,660.0 L1148.5,660.5 L1152.5,661.7 L1156.5,662.6 L1160.5,665.2 L1164.5,668.3 L1168.5,671.8 L1172.5,675.0 L1176.5,678.6 L1180.5,683.4" stroke="#fdd835" stroke-width="1.3" fill="none"/>
<path d="M109.5,700.9 L113.5,704.6 L117.5,705.3 L121.5,710.0 L125.5,710.2 L129.5,714.6 L133.5,689.0 L137.5,663.2 L141.5,657.1 L145.5,661.1 L149.5,651.1 L153.5,624.1 L157.5,610.6 L161.5,599.0 L165.5,594.1 L169.5,591.3 L173.5,590.1 L177.5,592.2 L181.5,582.7 L185.5,576.4 L189.5,573.1 L193.5,568.7 L197.5,567.1 L202.5,570.1 L206.5,585.0 L210.5,583.6 L214.5,669.9 L218.5,661.4 L222.5,641.2 L226.5,650.6 L230.5,657.1 L234.5,665.1 L238.5,660.0 L242.5,665.8 L246.5,676.7 L250.5,673.0 L254.5,661.9 L258.5,655.7 L262.5,635.2 L266.5,618.5 L270.5,606.1 L274.5,590.8 L278.5,584.8 L282.5,611.4 L286.5,628.1 L290.5,615.7 L295.5,637.3 L299.5,632.5 L303.5,619.8 L307.5,619.7 L311.5,608.7 L315.5,617.5 L319.5,623.3 L323.5,643.6 L327.5,646.2 L331.5,660.5 L335.5,657.5 L339.5,650.0 L343.5,662.8 L347.5,680.9 L351.5,677.2 L355.5,697.5 L359.5,700.0 L363.5,688.1 L367.5,697.1 L371.5,697.9 L375.5,699.8 L379.5,700.3 L383.5,702.9 L388.5,695.8 L392.5,683.9 L396.5,668.0 L400.5,682.1 L404.5,686.8 L408.5,687.3 L412.5,692.1 L416.5,699.1 L420.5,706.4 L424.5,709.1 L428.5,712.6 L432.5,715.2 L436.5,718.6 L440.5,715.0 L444.5,710.3 L448.5,713.4 L452.5,710.1 L456.5,707.9 L460.5,705.3 L464.5,703.6 L468.5,705.8 L472.5,699.6 L476.5,706.3 L480.5,710.8 L485.5,707.9 L489.5,704.1 L493.5,707.6 L497.5,705.1 L501.5,705.6 L505.5,704.3 L509.5,707.3 L513.5,708.6 L517.5,700.4 L521.5,701.2 L525.5,722.6 L529.5,722.9 L533.5,718.1 L537.5,719.2 L541.5,718.9 L545.5,720.7 L549.5,722.4 L553.5,723.9 L557.5,710.5 L561.5,688.2 L565.5,686.8 L569.5,682.1 L573.5,689.2 L578.5,692.7 L582.5,682.4 L586.5,688.1 L590.5,691.8 L594.5,694.0 L598.5,686.9 L602.5,690.4 L606.5,690.4 L610.5,690.4 L614.5,675.6 L618.5,686.1 L622.5,680.6 L626.5,685.7 L630.5,688.0 L634.5,691.8 L638.5,687.8 L642.5,682.9 L646.5,702.1 L650.5,702.9 L654.5,695.2 L658.5,685.0 L662.5,677.4 L666.5,659.6 L671.5,669.8 L675.5,669.8 L679.5,675.4 L683.5,670.9 L687.5,681.5 L691.5,685.1 L695.5,689.6 L699.5,693.2 L703.5,689.2 L707.5,684.4 L711.5,668.4 L715.5,672.4 L719.5,677.8 L723.5,651.2 L727.5,640.9 L731.5,624.8 L735.5,606.3 L739.5,602.5 L743.5,614.8 L747.5,609.1 L751.5,599.9 L755.5,614.4 L759.5,592.0 L764.5,613.0 L768.5,633.8 L772.5,630.4 L776.5,634.6 L780.5,630.8 L784.5,631.7 L788.5,623.3 L792.5,620.1 L796.5,636.0 L800.5,618.7 L804.5,612.0 L808.5,594.9 L812.5,615.2 L816.5,609.6 L820.5,631.8 L824.5,653.5 L828.5,655.5 L832.5,662.8 L836.5,658.7 L840.5,660.8 L844.5,646.7 L848.5,651.7 L852.5,652.2 L857.5,652.7 L861.5,662.5 L865.5,679.9 L869.5,667.4 L873.5,678.5 L877.5,667.9 L881.5,648.6 L885.5,648.6 L889.5,678.6 L893.5,676.8 L897.5,676.1 L901.5,666.8 L905.5,684.6 L909.5,683.3 L913.5,682.6 L917.5,674.1 L921.5,665.7 L925.5,674.2 L929.5,673.4 L933.5,661.0 L937.5,656.0 L941.5,667.1 L945.5,643.5 L950.5,633.6 L954.5,628.7 L958.5,640.6 L962.5,640.2 L966.5,650.0 L970.5,675.9 L974.5,671.1 L978.5,660.5 L982.5,673.8 L986.5,649.1 L990.5,655.2 L994.5,672.1 L998.5,673.3 L1002.5,678.9 L1006.5,687.2 L1010.5,682.0 L1014.5,701.7 L1018.5,701.5 L1022.5,698.0 L1026.5,701.1 L1030.5,707.9 L1034.5,695.1 L1038.5,690.1 L1043.5,684.5 L1047.5,686.6 L1051.5,671.4 L1055.5,671.0 L1059.5,669.8 L1063.5,680.6 L1067.5,683.4 L1071.5,682.6 L1075.5,694.4 L1079.5,680.6 L1083.5,681.5 L1087.5,675.4 L1091.5,663.6 L1095.5,659.9 L1099.5,677.6 L1103.5,665.6 L1107.5,661.4 L1111.5,654.0 L1115.5,657.7 L1119.5,654.8 L1123.5,639.4 L1127.5,642.8 L1131.5,661.1 L1136.5,652.4 L1140.5,672.1 L1144.5,677.3 L1148.5,670.5 L1152.5,677.7 L1156.5,689.9 L1160.5,702.1 L1164.5,704.6 L1168.5,702.7 L1172.5,703.3 L1176.5,704.5 L1180.5,706.2" stroke="#7e57c2" stroke-width="2.8" fill="none" stroke-linejoin="round" stroke-linecap="round"/>
<rect x="10" y="27" width="1333" height="736" fill="none" stroke="#f2f2f2" stroke-width="2"/>
<line x1="11" y1="557.5" x2="1342" y2="557.5" stroke="#e0e3eb" stroke-width="1"/>
<line x1="11" y1="735.5" x2="1342" y2="735.5" stroke="#e0e3eb" stroke-width="1"/>
<text x="10.3" y="18.6" font-size="12.5" fill="#131722" stroke="#131722" stroke-width="0.22" textLength="361.3" lengthAdjust="spacingAndGlyphs">ranadagger created with TradingView.com, Dec 19, 2025 20:08 UTC</text>
<text x="18.1" y="45.7" font-size="12" fill="#131722" stroke="#131722" stroke-width="0.22" textLength="162.9" lengthAdjust="spacingAndGlyphs">SOL / TetherUS · 1W · Binance</text>
<text x="188.9" y="45.7" font-size="12" fill="#131722" stroke="#131722" stroke-width="0.22" textLength="7.7" lengthAdjust="spacingAndGlyphs">O</text>
<text x="197.3" y="45.7" font-size="12" fill="#f23645" stroke="#f23645" stroke-width="0.22" textLength="35.2" lengthAdjust="spacingAndGlyphs">129.39</text>
<text x="240.3" y="45.7" font-size="12" fill="#131722" stroke="#131722" stroke-width="0.22" textLength="7.3" lengthAdjust="spacingAndGlyphs">H</text>
<text x="248.3" y="45.7" font-size="12" fill="#f23645" stroke="#f23645" stroke-width="0.22" textLength="34.8" lengthAdjust="spacingAndGlyphs">135.43</text>
<text x="290.9" y="45.7" font-size="12" fill="#131722" stroke="#131722" stroke-width="0.22" textLength="5.5" lengthAdjust="spacingAndGlyphs">L</text>
<text x="297.5" y="45.7" font-size="12" fill="#f23645" stroke="#f23645" stroke-width="0.22" textLength="35" lengthAdjust="spacingAndGlyphs">116.88</text>
<text x="340.1" y="45.7" font-size="12" fill="#131722" stroke="#131722" stroke-width="0.22" textLength="7.3" lengthAdjust="spacingAndGlyphs">C</text>
<text x="348.0" y="45.7" font-size="12" fill="#f23645" stroke="#f23645" stroke-width="0.22" textLength="34.2" lengthAdjust="spacingAndGlyphs">126.11</text>
<text x="390.2" y="45.7" font-size="12" fill="#f23645" stroke="#f23645" stroke-width="0.22" textLength="78.5" lengthAdjust="spacingAndGlyphs">−3.29 (−2.54%)</text>
<text x="18.1" y="63.1" font-size="12" fill="#131722" stroke="#131722" stroke-width="0.22" textLength="81.5" lengthAdjust="spacingAndGlyphs">EMA (20, close)</text>
<text x="107.8" y="63.1" font-size="12" fill="#2962ff" stroke="#2962ff" stroke-width="0.22" textLength="34.9" lengthAdjust="spacingAndGlyphs">163.65</text>
<text x="18.1" y="80.1" font-size="12" fill="#131722" stroke="#131722" stroke-width="0.22" textLength="80.3" lengthAdjust="spacingAndGlyphs">SMA (50, close)</text>
<text x="107.5" y="80.1" font-size="12" fill="#f23645" stroke="#f23645" stroke-width="0.22" textLength="34.9" lengthAdjust="spacingAndGlyphs">170.76</text>
<text x="18.5" y="576.8" font-size="12" fill="#131722" stroke="#131722" stroke-width="0.22" textLength="75" lengthAdjust="spacingAndGlyphs">RSI (14, close)</text>
<text x="102.3" y="576.8" font-size="12" fill="#7e57c2" stroke="#7e57c2" stroke-width="0.22" textLength="28.9" lengthAdjust="spacingAndGlyphs">37.30</text>
<text x="138.1" y="576.8" font-size="12" fill="#fdd835" stroke="#fdd835" stroke-width="0.22" textLength="29.6" lengthAdjust="spacingAndGlyphs">47.23</text>
<line x1="258" y1="111.5" x2="1263" y2="111.5" stroke="#0000ff" stroke-width="3" stroke-dasharray="15,18"/>
<line x1="1002" y1="378.5" x2="1263" y2="378.5" stroke="#0000ff" stroke-width="3" stroke-dasharray="15,18"/>
<rect x="1264" y="28" width="78" height="529" fill="#ffffff"/>
<rect x="1264" y="558" width="78" height="177" fill="#ffffff"/>
<rect x="1267.5" y="31" width="71.5" height="26" rx="5" fill="#ffffff" stroke="#eeeeee" stroke-width="1.6"/>
<text x="1276" y="49.4" font-size="12" fill="#131722" stroke="#131722" stroke-width="0.22" textLength="27.8" lengthAdjust="spacingAndGlyphs">USDT</text>
<text x="1272.4" y="83.8" font-size="12" fill="#131722" stroke="#131722" stroke-width="0.22" textLength="35.3" lengthAdjust="spacingAndGlyphs">280.00</text>
<text x="1272.4" y="148.8" font-size="12" fill="#131722" stroke="#131722" stroke-width="0.22" textLength="35.3" lengthAdjust="spacingAndGlyphs">240.00</text>
<text x="1272.4" y="180.8" font-size="12" fill="#131722" stroke="#131722" stroke-width="0.22" textLength="35.3" lengthAdjust="spacingAndGlyphs">220.00</text>
<text x="1272.4" y="212.8" font-size="12" fill="#131722" stroke="#131722" stroke-width="0.22" textLength="35.3" lengthAdjust="spacingAndGlyphs">200.00</text>
<text x="1272.4" y="245.8" font-size="12" fill="#131722" stroke="#131722" stroke-width="0.22" textLength="35.3" lengthAdjust="spacingAndGlyphs">180.00</text>
<text x="1272.4" y="277.8" font-size="12" fill="#131722" stroke="#131722" stroke-width="0.22" textLength="35.3" lengthAdjust="spacingAndGlyphs">160.00</text>
<text x="1272.4" y="309.8" font-size="12" fill="#131722" stroke="#131722" stroke-width="0.22" textLength="35.3" lengthAdjust="spacingAndGlyphs">140.00</text>
<text x="1272.4" y="341.8" font-size="12" fill="#131722" stroke="#131722" stroke-width="0.22" textLength="35.3" lengthAdjust="spacingAndGlyphs">120.00</text>
<text x="1272.4" y="374.8" font-size="12" fill="#131722" stroke="#131722" stroke-width="0.22" textLength="35.3" lengthAdjust="spacingAndGlyphs">100.00</text>
<text x="1272.4" y="406.8" font-size="12" fill="#131722" stroke="#131722" stroke-width="0.22" textLength="29.5" lengthAdjust="spacingAndGlyphs">80.00</text>
<text x="1272.4" y="438.8" font-size="12" fill="#131722" stroke="#131722" stroke-width="0.22" textLength="29.5" lengthAdjust="spacingAndGlyphs">60.00</text>
<text x="1272.4" y="471.8" font-size="12" fill="#131722" stroke="#131722" stroke-width="0.22" textLength="29.5" lengthAdjust="spacingAndGlyphs">40.00</text>
<text x="1272.4" y="503.8" font-size="12" fill="#131722" stroke="#131722" stroke-width="0.22" textLength="29.5" lengthAdjust="spacingAndGlyphs">20.00</text>
<text x="1272.4" y="535.8" font-size="12" fill="#131722" stroke="#131722" stroke-width="0.22" textLength="24" lengthAdjust="spacingAndGlyphs">0.00</text>
<defs><clipPath id="cRS"><rect x="1264" y="558" width="78" height="177"/></clipPath></defs><g clip-path="url(#cRS)">
<text x="1272.4" y="564.8" font-size="12" fill="#131722" stroke="#131722" stroke-width="0.22" textLength="35.3" lengthAdjust="spacingAndGlyphs">100.00</text>
<text x="1272.4" y="611.8" font-size="12" fill="#131722" stroke="#131722" stroke-width="0.22" textLength="29.5" lengthAdjust="spacingAndGlyphs">80.00</text>
<text x="1272.4" y="657.8" font-size="12" fill="#131722" stroke="#131722" stroke-width="0.22" textLength="29.5" lengthAdjust="spacingAndGlyphs">60.00</text>
<text x="1272.4" y="704.8" font-size="12" fill="#131722" stroke="#131722" stroke-width="0.22" textLength="29.5" lengthAdjust="spacingAndGlyphs">40.00</text>
</g>
<path d="M1264,103H1311Q1313,103 1313,105V118Q1313,120 1311,120H1264Z" fill="#0000ff"/>
<text x="1272.4" y="116" font-size="12" fill="#ffffff" stroke="#ffffff" stroke-width="0.45" textLength="35.3" lengthAdjust="spacingAndGlyphs">260.00</text>
<path d="M1215.3,242.6H1310.5Q1312.5,242.6 1312.5,244.6V256.6Q1312.5,258.6 1310.5,258.6H1215.3Q1213.3,258.6 1213.3,256.6V244.6Q1213.3,242.6 1215.3,242.6Z" fill="#f23645"/>
<text x="1217.6" y="254.6" font-size="12" fill="#ffffff" stroke="#ffffff" stroke-width="0.45" textLength="41.9" lengthAdjust="spacingAndGlyphs">SMA:MA</text>
<text x="1272.4" y="254.6" font-size="12" fill="#ffffff" stroke="#ffffff" stroke-width="0.45" textLength="35.8" lengthAdjust="spacingAndGlyphs">170.76</text>
<path d="M1234.7,259.6H1310.5Q1312.5,259.6 1312.5,261.6V273.6Q1312.5,275.6 1310.5,275.6H1234.7Q1232.7,275.6 1232.7,273.6V261.6Q1232.7,259.6 1234.7,259.6Z" fill="#2962ff"/>
<text x="1237.1" y="271.6" font-size="12" fill="#ffffff" stroke="#ffffff" stroke-width="0.45" textLength="21.7" lengthAdjust="spacingAndGlyphs">EMA</text>
<text x="1272.4" y="271.6" font-size="12" fill="#ffffff" stroke="#ffffff" stroke-width="0.45" textLength="35.8" lengthAdjust="spacingAndGlyphs">163.65</text>
<path d="M1209.7,320.4H1263V336.4H1209.7Q1207.7,336.4 1207.7,334.4V322.4Q1207.7,320.4 1209.7,320.4Z" fill="#f05350"/>
<path d="M1263,320.4H1335.8Q1337.8,320.4 1337.8,322.4V363Q1337.8,365 1335.8,365H1263Z" fill="#f05350"/>
<text x="1211" y="332.6" font-size="12" fill="#ffffff" stroke="#ffffff" stroke-width="0.45" textLength="47" lengthAdjust="spacingAndGlyphs">SOLUSDT</text>
<text x="1272.4" y="332.6" font-size="12" fill="#ffffff" stroke="#ffffff" stroke-width="0.45" textLength="35.3" lengthAdjust="spacingAndGlyphs">126.11</text>
<text x="1272.4" y="346.7" font-size="12" fill="#ffffff" stroke="#ffffff" stroke-width="0.45" textLength="61.5" lengthAdjust="spacingAndGlyphs">+4,324.91%</text>
<text x="1272.4" y="360.6" font-size="12" fill="#ffffff" stroke="#ffffff" stroke-width="0.45" textLength="28.5" lengthAdjust="spacingAndGlyphs" fill-opacity="0.72" stroke-opacity="0.72">2d 4h</text>
<path d="M1264,370.3H1305Q1307,370.3 1307,372.3V385.3Q1307,387.3 1305,387.3H1264Z" fill="#0000ff"/>
<text x="1272.4" y="383" font-size="12" fill="#ffffff" stroke="#ffffff" stroke-width="0.45" textLength="29.5" lengthAdjust="spacingAndGlyphs">95.00</text>
<path d="M1186.2,675H1304.9Q1306.9,675 1306.9,677V690Q1306.9,692 1304.9,692H1186.2Q1184.2,692 1184.2,690V677Q1184.2,675 1186.2,675Z" fill="#fdd835"/>
<text x="1188.6" y="688" font-size="12" fill="#131722" stroke="#131722" stroke-width="0.4" textLength="70.5" lengthAdjust="spacingAndGlyphs">RSI-based MA</text>
<text x="1272.2" y="688" font-size="12" fill="#131722" stroke="#131722" stroke-width="0.4" textLength="29" lengthAdjust="spacingAndGlyphs">47.23</text>
<path d="M1240,698H1304.9Q1306.9,698 1306.9,700V713Q1306.9,715 1304.9,715H1240Q1238,715 1238,713V700Q1238,698 1240,698Z" fill="#7e57c2"/>
<text x="1243.3" y="710.7" font-size="12" fill="#ffffff" stroke="#ffffff" stroke-width="0.45" textLength="15.6" lengthAdjust="spacingAndGlyphs">RSI</text>
<text x="1272.2" y="710.7" font-size="12" fill="#ffffff" stroke="#ffffff" stroke-width="0.45" textLength="29.3" lengthAdjust="spacingAndGlyphs">37.30</text>
<line x1="1263.5" y1="28" x2="1263.5" y2="761" stroke="#e0e3eb" stroke-width="1"/>
<text x="136.79999999999998" y="753" font-size="12.2" fill="#131722" stroke="#131722" stroke-width="0.6" text-anchor="middle" textLength="26.6" lengthAdjust="spacingAndGlyphs">2021</text>
<text x="241.79999999999998" y="753" font-size="12" fill="#131722" stroke="#131722" stroke-width="0.22" text-anchor="middle" textLength="15.5" lengthAdjust="spacingAndGlyphs">Jul</text>
<text x="346.6" y="753" font-size="12.2" fill="#131722" stroke="#131722" stroke-width="0.6" text-anchor="middle" textLength="26.6" lengthAdjust="spacingAndGlyphs">2022</text>
<text x="451.7" y="753" font-size="12" fill="#131722" stroke="#131722" stroke-width="0.22" text-anchor="middle" textLength="15.5" lengthAdjust="spacingAndGlyphs">Jul</text>
<text x="556.7" y="753" font-size="12.2" fill="#131722" stroke="#131722" stroke-width="0.6" text-anchor="middle" textLength="26.6" lengthAdjust="spacingAndGlyphs">2023</text>
<text x="661.7" y="753" font-size="12" fill="#131722" stroke="#131722" stroke-width="0.22" text-anchor="middle" textLength="15.5" lengthAdjust="spacingAndGlyphs">Jul</text>
<text x="767.8000000000001" y="753" font-size="12.2" fill="#131722" stroke="#131722" stroke-width="0.6" text-anchor="middle" textLength="26.6" lengthAdjust="spacingAndGlyphs">2024</text>
<text x="872.8000000000001" y="753" font-size="12" fill="#131722" stroke="#131722" stroke-width="0.22" text-anchor="middle" textLength="15.5" lengthAdjust="spacingAndGlyphs">Jul</text>
<text x="981.8000000000001" y="753" font-size="12.2" fill="#131722" stroke="#131722" stroke-width="0.6" text-anchor="middle" textLength="26.6" lengthAdjust="spacingAndGlyphs">2025</text>
<text x="1086.8" y="753" font-size="12" fill="#131722" stroke="#131722" stroke-width="0.22" text-anchor="middle" textLength="15.5" lengthAdjust="spacingAndGlyphs">Jul</text>
<text x="1191.6" y="753" font-size="12.2" fill="#131722" stroke="#131722" stroke-width="0.6" text-anchor="middle" textLength="26.6" lengthAdjust="spacingAndGlyphs">2026</text>
<path d="M1189.54,541.61A9.4,9.4 0 1 1 1183.4,535.26" fill="none" stroke="#9c27b0" stroke-width="1.9" stroke-linecap="round"/>
<path d="M1182.9,539.6L1176.8,544.5H1184.2L1177.7,549.5" fill="none" stroke="#9c27b0" stroke-width="1.9" stroke-linejoin="round" stroke-linecap="round"/>
<circle cx="1187.4" cy="537.5" r="2.55" fill="#f23645"/>
<path d="M12.1,785H23.9V799.8H18V790.9H12.1Z" fill="#131722"/><circle cx="28.9" cy="787.9" r="2.95" fill="#131722"/><path d="M35.2,785H41.8L35.9,799.8H29.1Z" fill="#131722"/>

<text x="48.8" y="799.9" font-size="22" font-weight="bold" fill="#131722" textLength="121.2" lengthAdjust="spacingAndGlyphs">TradingView</text></svg></body></html>
